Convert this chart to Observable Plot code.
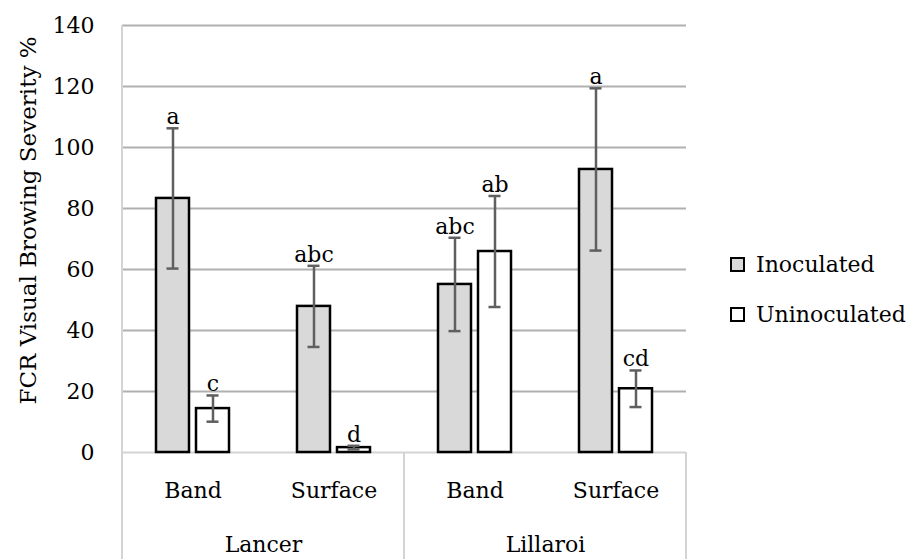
<!DOCTYPE html>
<html>
<head>
<meta charset="utf-8">
<script src="https://cdn.jsdelivr.net/npm/d3@7"></script>
<script src="https://cdn.jsdelivr.net/npm/@observablehq/plot@0.6"></script>
<style>
  html, body { margin: 0; padding: 0; background: #fff; }
  #wrap { position: relative; width: 920px; height: 559px; font-family: "DejaVu Serif", serif; }
  .legend { position: absolute; left: 730px; font-size: 22px; color: #000; display: flex; align-items: center; white-space: nowrap; }
  .sw { width: 11px; height: 11px; border: 2px solid #000; margin-right: 11px; box-sizing: content-box; }
</style>
</head>
<body>
<div id="wrap"></div>
<script>
// ---- data ----
const cultivar = ["Lancer", "Lancer", "Lillaroi", "Lillaroi"];
const placement = ["Band", "Surface", "Band", "Surface"];
const inoculated = [83.3, 47.9, 55.1, 92.8];
const inoculatedErr = [23.0, 13.3, 15.3, 26.6];
const inoculatedLetters = ["a", "abc", "abc", "a"];
const uninoculated = [14.4, 1.6, 65.9, 20.9];
const uninoculatedErr = [4.3, 0.6, 18.2, 6.0];
const uninoculatedLetters = ["c", "d", "ab", "cd"];
const series = ["Inoculated", "Uninoculated"];
const seriesFill = ["#d9d9d9", "#ffffff"];
const yTicks = [0, 20, 40, 60, 80, 100, 120, 140];
const yTitle = "FCR Visual Browing Severity %";

// ---- build table ----
const rows = [];
cultivar.forEach((c, i) => {
  rows.push({cultivar: c, placement: placement[i], series: series[0], value: inoculated[i], err: inoculatedErr[i], letter: inoculatedLetters[i]});
  rows.push({cultivar: c, placement: placement[i], series: series[1], value: uninoculated[i], err: uninoculatedErr[i], letter: uninoculatedLetters[i]});
});
rows.forEach(d => { d.lo = d.value - d.err; d.hi = d.value + d.err; });

const W = 920, H = 559;
const mL = 122, mR = 234, mT = 25, mB = 107;
const bandW = (W - mL - mR) / 4;     // width of one placement band
const barW = 33, off = 20, capW = 12;
const inset = (bandW - barW) / 2;
const capInset = (bandW - capW) / 2;

const marks = [];
marks.push(Plot.gridY(yTicks.filter(t => t > 0), {stroke: "#b0b0b0", strokeOpacity: 1, strokeWidth: 2}));
marks.push(Plot.ruleY([0], {stroke: "#d4d4d4", strokeWidth: 2}));
series.forEach((s, k) => {
  const data = rows.filter(d => d.series === s);
  const dx = k === 0 ? -off : off;
  marks.push(Plot.barY(data, {fx: "cultivar", x: "placement", y: "value", dx, insetLeft: inset, insetRight: inset,
    fill: seriesFill[k], stroke: "#000", strokeWidth: 2.5}));
  marks.push(Plot.ruleX(data, {fx: "cultivar", x: "placement", y1: "lo", y2: "hi", dx, stroke: "#5f5f5f", strokeWidth: 2.5}));
  marks.push(Plot.tickY(data, {fx: "cultivar", x: "placement", y: "hi", dx, insetLeft: capInset, insetRight: capInset, stroke: "#5f5f5f", strokeWidth: 2.5}));
  marks.push(Plot.tickY(data, {fx: "cultivar", x: "placement", y: "lo", dx, insetLeft: capInset, insetRight: capInset, stroke: "#5f5f5f", strokeWidth: 2.5}));
  marks.push(Plot.text(data, {fx: "cultivar", x: "placement", y: "hi", text: "letter", dx, dy: -4, lineAnchor: "bottom", fill: "#000", fontSize: 22}));
});
marks.push(Plot.axisY({ticks: yTicks, tickSize: 0, tickPadding: 28, label: null, fontSize: 22}));
marks.push(Plot.axisX({tickSize: 0, tickPadding: 30, label: null, fontSize: 22}));
marks.push(Plot.axisFx({anchor: "bottom", tickSize: 0, tickPadding: 84, label: null, fontSize: 22}));

const svg = Plot.plot({
  width: W, height: H,
  marginLeft: mL, marginRight: mR, marginTop: mT, marginBottom: mB,
  style: {fontFamily: "DejaVu Serif", fontSize: "22px", color: "#000", background: "#fff", overflow: "visible"},
  fx: {domain: ["Lancer", "Lillaroi"], padding: 0},
  x: {domain: ["Band", "Surface"], padding: 0},
  y: {domain: [0, 140]},
  marks
});

// separator / axis lines of the category table
const g = d3.select(svg).append("g").attr("stroke", "#d4d4d4").attr("stroke-width", 2);
const fx = svg.scale("fx");
const yS = svg.scale("y");
const y0 = yS.apply(0), yTop = yS.apply(140);
const edges = fx.domain.map(d => fx.apply(d)).concat([fx.apply(fx.domain[fx.domain.length - 1]) + fx.bandwidth]);
edges.forEach((x, i) => {
  g.append("line").attr("x1", x).attr("x2", x).attr("y1", i === 0 ? yTop : y0).attr("y2", H);
});
d3.select(svg).append("text")
  .attr("transform", `translate(36,${(yTop + y0) / 2 - 18}) rotate(-90)`)
  .attr("text-anchor", "middle")
  .attr("font-size", 23)
  .attr("fill", "#000")
  .text(yTitle);

const wrap = document.getElementById("wrap");
wrap.appendChild(svg);
series.forEach((s, k) => {
  const div = document.createElement("div");
  div.className = "legend";
  div.style.top = (k === 0 ? 252 : 302) + "px";
  const sw = document.createElement("span");
  sw.className = "sw";
  sw.style.background = seriesFill[k];
  div.appendChild(sw);
  const t = document.createElement("span");
  t.textContent = s;
  div.appendChild(t);
  wrap.appendChild(div);
});
</script>
</body>
</html>
